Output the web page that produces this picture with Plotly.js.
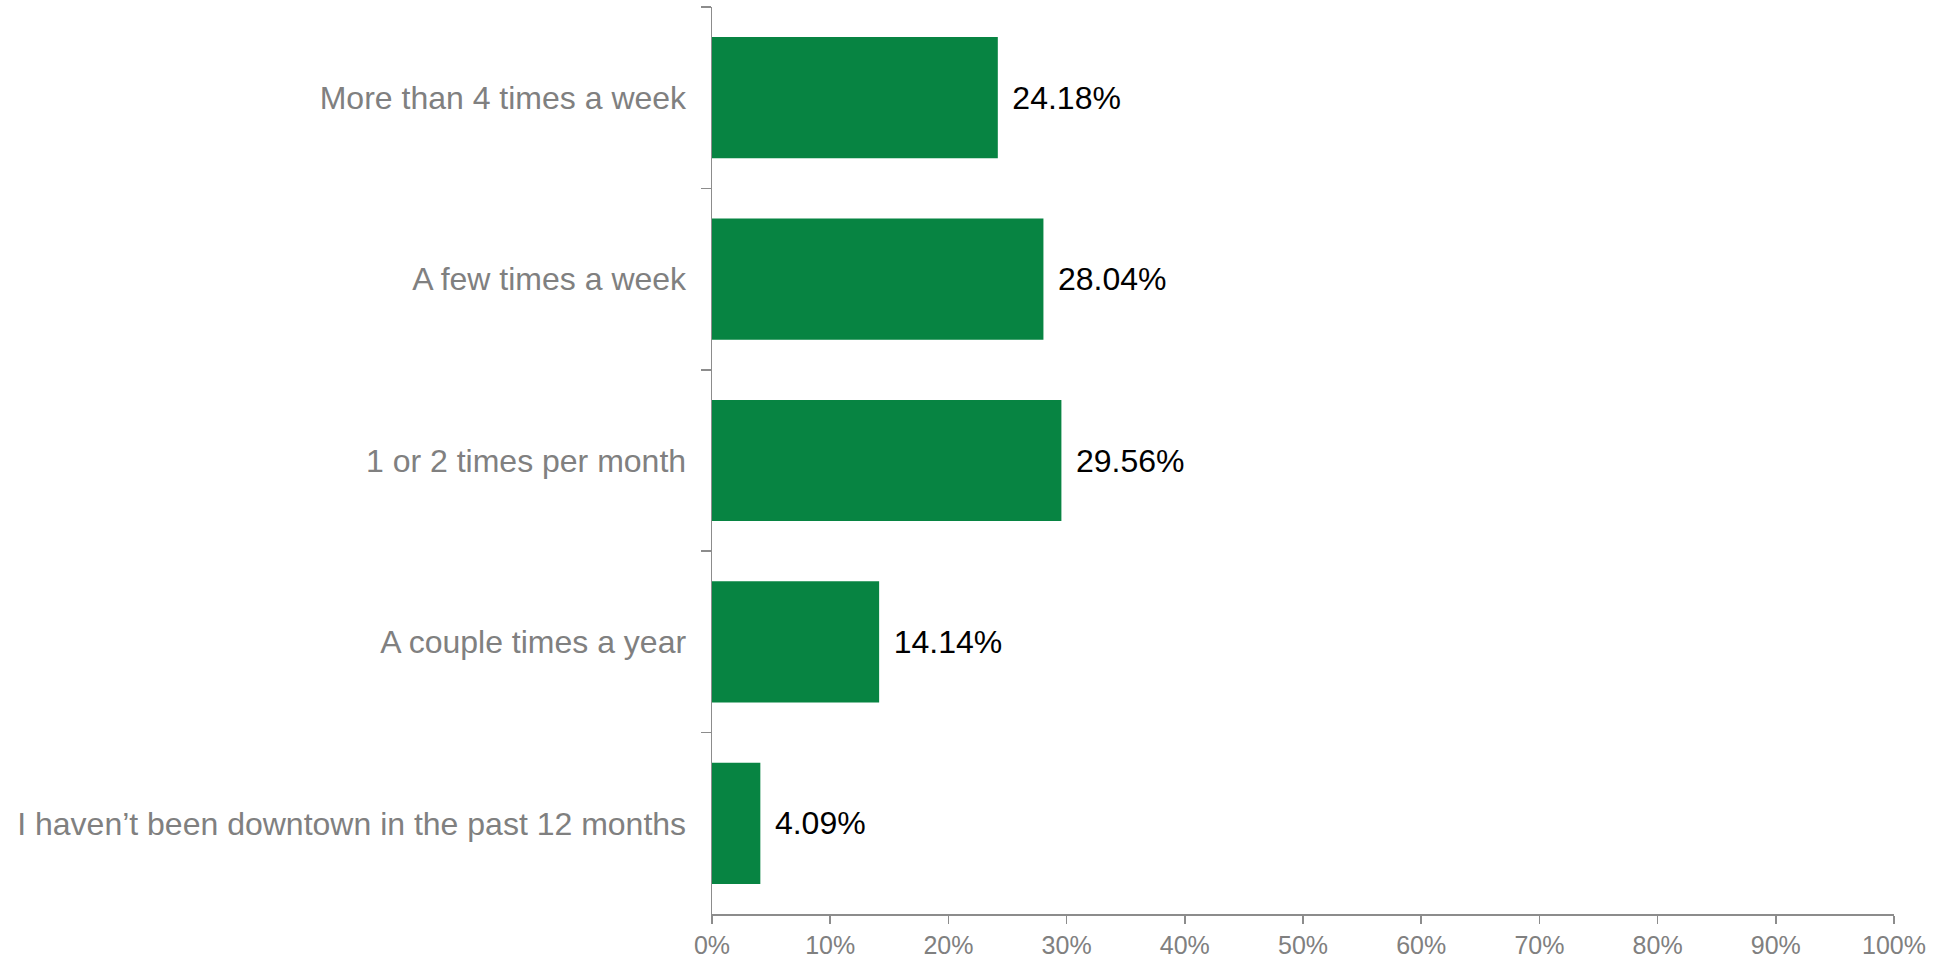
<!DOCTYPE html>
<html>
<head>
<meta charset="utf-8">
<script src="https://cdn.plot.ly/plotly-3.0.1.min.js"></script>
<style>html,body{margin:0;padding:0;background:#fff;}#chart{width:1944px;height:958px;}</style>
</head>
<body>
<div id="chart"></div>
<script>
const categories = [
  "More than 4 times a week",
  "A few times a week",
  "1 or 2 times per month",
  "A couple times a year",
  "I haven\u2019t been downtown in the past 12 months"
];
const values = [0.2418, 0.2804, 0.2956, 0.1414, 0.0409];
const xTickVals = [0, 0.1, 0.2, 0.3, 0.4, 0.5, 0.6, 0.7, 0.8, 0.9, 1.0];
const xTickText = ["0%", "10%", "20%", "30%", "40%", "50%", "60%", "70%", "80%", "90%", "100%"];

const FONT = "Liberation Sans, Arial, sans-serif";

const trace = {
  type: "bar",
  orientation: "h",
  x: values,
  y: categories,
  marker: {color: "#078442", line: {width: 0}},
  texttemplate: "\u00a0\u200a%{x:.2%}",
  textposition: "outside",
  textfont: {family: FONT, size: 32, color: "#000000"},
  cliponaxis: false,
  hoverinfo: "skip"
};

const layout = {
  width: 1944,
  height: 958,
  margin: {l: 712, r: 50, t: 7, b: 44, pad: 0},
  paper_bgcolor: "#ffffff",
  plot_bgcolor: "#ffffff",
  showlegend: false,
  bargap: 0.332,
  xaxis: {
    range: [0, 1],
    tickvals: xTickVals,
    ticktext: xTickText,
    showgrid: false,
    zeroline: false,
    showline: true,
    linecolor: "#8c8c8c",
    linewidth: 1.5,
    ticks: "outside",
    ticklen: 8,
    tickwidth: 1.5,
    tickcolor: "#8c8c8c",
    tickfont: {family: FONT, size: 25, color: "#808080"},
    ticklabelstandoff: 0,
    fixedrange: true
  },
  yaxis: {
    type: "category",
    autorange: "reversed",
    showgrid: false,
    zeroline: false,
    showline: true,
    linecolor: "#8c8c8c",
    linewidth: 1.5,
    ticks: "outside",
    tickson: "boundaries",
    ticklen: 10,
    tickwidth: 1.5,
    tickcolor: "#8c8c8c",
    tickfont: {family: FONT, size: 32, color: "#808080"},
    ticklabelstandoff: 18,
    fixedrange: true
  }
};

Plotly.newPlot("chart", [trace], layout, {displayModeBar: false, staticPlot: true});
</script>
</body>
</html>
